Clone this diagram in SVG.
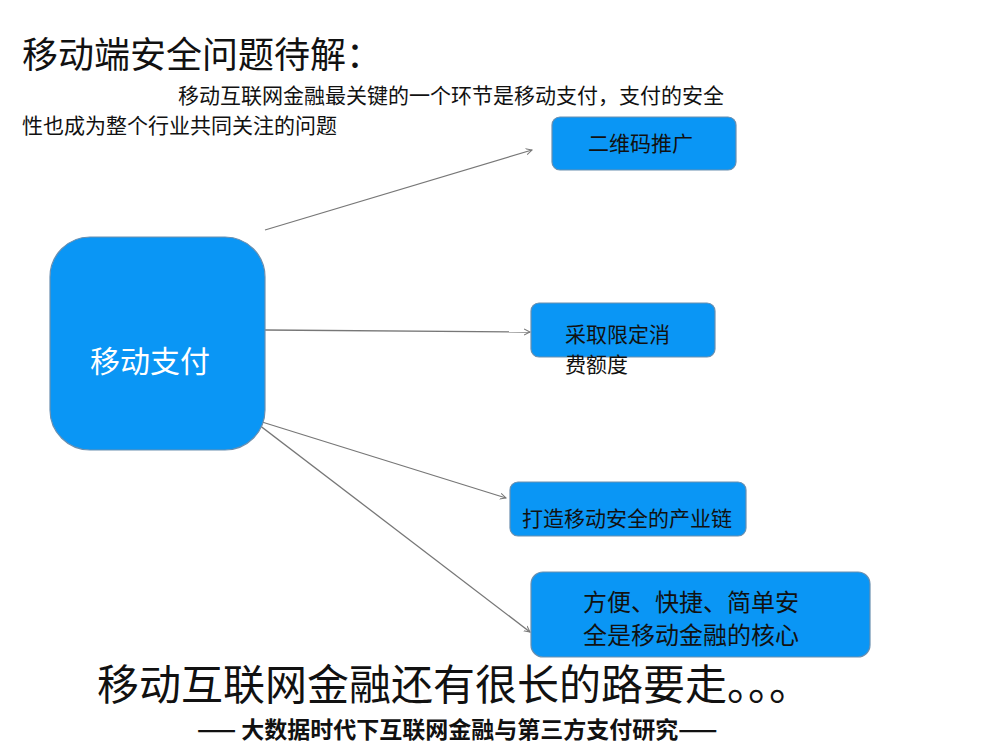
<svg xmlns="http://www.w3.org/2000/svg" width="1000" height="750" viewBox="0 0 1000 750">
<style>
.t{font-family:"Noto Sans CJK SC","Liberation Sans",sans-serif;fill:#111}
.b{fill:#0A96F5;stroke:#6A8FB0;stroke-width:1.2}
.c{fill:none;stroke:#777;stroke-width:1.3}
</style>
<defs><marker id="a" markerWidth="8" markerHeight="8" refX="6" refY="4" orient="auto" markerUnits="userSpaceOnUse"><path d="M0,1 L6,4 L0,7" fill="none" stroke="#777" stroke-width="1"/></marker></defs>
<rect width="1000" height="750" fill="#fff"/>
<text class="t" x="22" y="68" font-size="36">移动端安全问题待解：</text>
<text class="t" x="178" y="103" font-size="21">移动互联网金融最关键的一个环节是移动支付，支付的安全</text>
<text class="t" x="22" y="133" font-size="21">性也成为整个行业共同关注的问题</text>
<g id="connectors">
<path class="c" d="M265,230 L532,150" marker-end="url(#a)"/>
<path class="c" d="M265,330 L530,332" marker-end="url(#a)"/>
<path class="c" d="M262,422 L506,498" marker-end="url(#a)"/>
<path class="c" d="M250,418 L530,632" stroke="#bbb" marker-end="url(#a)"/>
</g>
<g id="n0"><rect class="b" x="50" y="237" width="215" height="213" rx="40"/><text x="150" y="372" text-anchor="middle" font-size="30" font-family="Noto Sans CJK SC,sans-serif" fill="#fff">移动支付</text></g>
<g id="n1"><rect class="b" x="552" y="117" width="184" height="53" rx="8"/><text class="t" x="588" y="151" font-size="21">二维码推广</text></g>
<g id="n2"><rect class="b" x="531" y="303" width="184" height="54" rx="8"/><text class="t" x="565" y="342" font-size="21">采取限定消</text><text class="t" x="565" y="372" font-size="21">费额度</text></g>
<g id="n3"><rect class="b" x="510" y="482" width="236" height="54" rx="8"/><text class="t" x="522" y="526" font-size="21">打造移动安全的产业链</text></g>
<g id="n4"><rect class="b" x="531" y="572" width="339" height="85" rx="12"/><text class="t" x="583" y="611" font-size="24">方便、快捷、简单安</text><text class="t" x="583" y="644" font-size="24">全是移动金融的核心</text></g>
<text class="t" x="97" y="700" font-size="42">移动互联网金融还有很长的路要走。。。</text>
<text class="t" x="197" y="738" font-size="23" font-weight="bold">—— 大数据时代下互联网金融与第三方支付研究——</text>
</svg>
